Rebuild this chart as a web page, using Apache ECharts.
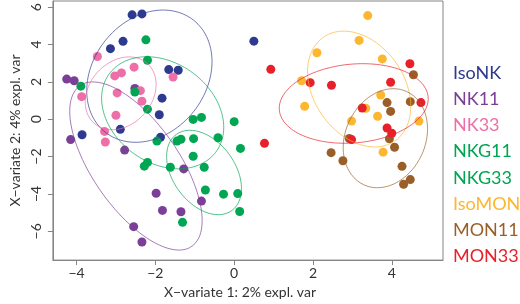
<!DOCTYPE html>
<html>
<head>
<meta charset="utf-8">
<script src="https://cdn.jsdelivr.net/npm/echarts@6/dist/echarts.min.js"></script>
<style>
  html, body { margin: 0; padding: 0; background: #fff; }
  #main { width: 520px; height: 304px; }
</style>
</head>
<body>
<div id="main"></div>
<script>
// groups, in legend order
var groupNames = ['IsoNK', 'NK11', 'NK33', 'NKG11', 'NKG33', 'IsoMON', 'MON11', 'MON33'];
var groupColors = ['#2e3a8f', '#7c3f97', '#ee6fa8', '#00a651', '#00a651', '#fdb62f', '#9a5f28', '#e8202a'];

// sample coordinates [X-variate 1, X-variate 2]
var isoNK = [[-2.59, 5.59], [-2.34, 5.64], [-3.14, 3.78], [-2.82, 4.17], [-1.66, 2.66], [-1.42, 2.62],
  [-1.83, 1.13], [-1.90, 0.24], [-2.89, -0.54], [-3.86, -0.83], [-1.87, -0.97], [0.50, 4.18]];
var nk11 = [[-4.25, 2.15], [-4.06, 2.06], [-2.52, 1.65], [-4.15, -1.09], [-2.78, -1.65], [-1.28, -2.66],
  [-1.98, -3.96], [-1.82, -4.88], [-1.35, -4.95], [-0.83, -4.38], [-2.55, -5.75], [-2.34, -6.57]];
var nk33 = [[-3.47, 3.36], [-2.54, 2.79], [-3.03, 2.32], [-2.86, 2.48], [-1.55, 2.26], [-3.87, 1.21],
  [-2.97, 1.41], [-2.38, 1.53], [-2.34, 0.97], [-3.00, 0.21], [-3.29, -0.65], [-3.27, -1.22]];
var nkg11 = [[-2.24, 4.25], [-2.20, 3.16], [-3.89, 1.77], [-2.52, 1.46], [-2.20, 0.54], [-1.04, -0.01],
  [-0.83, 0.10], [0.00, -0.13], [-1.96, -1.17], [-0.41, -0.99], [-2.20, -2.31], [-2.28, -2.51]];
var nkg33 = [[-1.45, -1.17], [-1.35, -1.07], [-1.03, -1.04], [0.16, -1.56], [-1.04, -1.98], [-1.62, -2.57],
  [-0.76, -2.57], [-0.73, -3.79], [-0.27, -4.01], [0.09, -3.98], [0.14, -4.94], [-1.31, -5.52]];
var isoMON = [[3.39, 5.55], [3.17, 4.22], [2.10, 3.56], [3.76, 3.23], [1.71, 2.06], [3.72, 1.30],
  [1.79, 0.69], [3.34, 0.59], [3.64, 0.16], [2.98, -0.10], [4.69, -0.10], [3.78, -1.76]];
var mon11 = [[4.55, 2.38], [3.88, 0.89], [4.47, 0.94], [3.97, 0.42], [2.92, -1.03], [3.94, -1.05],
  [4.07, -1.50], [2.46, -1.79], [2.76, -2.22], [4.26, -2.52], [4.47, -3.23], [4.30, -3.48]];
var mon33 = [[0.93, 2.67], [0.77, -1.29], [1.93, 1.96], [2.47, 1.82], [3.97, 1.98], [4.46, 2.97],
  [3.25, 0.60], [4.74, 0.89], [3.88, -0.47], [4.00, -0.75], [2.98, -1.09]];
var groupPoints = [isoNK, nk11, nk33, nkg11, nkg33, isoMON, mon11, mon33];

// confidence ellipses around each group mean: half width, half height, cos(tilt phase)
var ellipseHalfX = [1.59, 1.68, 0.90, 1.55, 0.95, 1.31, 1.07, 1.89];
var ellipseHalfY = [3.54, 4.50, 1.95, 3.00, 2.26, 3.10, 2.65, 2.13];
var ellipseCosPhase = [0.22, -0.65, 0.24, -0.26, -0.38, -0.30, 0.19, 0.12];

// axis ticks
var xTicks = [-4, -2, 0, 2, 4];
var yTicks = [-6, -4, -2, 0, 2, 4, 6];

function mean(pts, k) {
  var s = 0;
  for (var i = 0; i < pts.length; i++) s += pts[i][k];
  return s / pts.length;
}

function ellipse(pts, hx, hy, cphi) {
  var cx = mean(pts, 0), cy = mean(pts, 1), phi = Math.acos(cphi), out = [];
  for (var i = 0; i <= 120; i++) {
    var t = i / 120 * 2 * Math.PI;
    out.push([cx + hx * Math.cos(t), cy + hy * Math.cos(t - phi)]);
  }
  return out;
}

function minus(v) { return String(v).replace('-', '\u2212'); }

var series = [];
for (var i = 0; i < groupNames.length; i++) {
  series.push({
    name: groupNames[i],
    type: 'scatter',
    symbolSize: 9,
    itemStyle: { color: groupColors[i], opacity: 1 },
    data: groupPoints[i]
  });
}
for (var j = 0; j < groupNames.length; j++) {
  series.push({
    name: groupNames[j],
    type: 'line',
    showSymbol: false,
    symbol: 'none',
    silent: true,
    lineStyle: { color: groupColors[j], width: 0.8, opacity: 0.85 },
    data: ellipse(groupPoints[j], ellipseHalfX[j], ellipseHalfY[j], ellipseCosPhase[j])
  });
}

var axisGray = '#858585';
var chart = echarts.init(document.getElementById('main'));
chart.setOption({
  backgroundColor: '#fff',
  animation: false,
  textStyle: { fontFamily: 'Lato' },
  grid: { left: 39, right: 77, top: 1, bottom: 37, show: true, borderColor: axisGray, borderWidth: 1 },
  legend: {
    orient: 'vertical',
    left: 448,
    top: 64,
    padding: 0,
    icon: 'none',
    itemWidth: 0,
    itemHeight: 0,
    itemGap: 8.2,
    selectedMode: false,
    textStyle: { fontFamily: 'Lato', fontSize: 18, lineHeight: 18 },
    data: groupNames.map(function (n, k) {
      return { name: n, textStyle: { color: groupColors[k] } };
    })
  },
  xAxis: {
    type: 'value',
    min: -4.6,
    max: 5.3,
    name: 'X\u2212variate 1: 2% expl. var',
    nameLocation: 'middle',
    nameGap: 23,
    nameTextStyle: { fontFamily: 'Lato', fontSize: 14, color: '#333', padding: [0, 16, 0, 0] },
    axisLine: { onZero: false, lineStyle: { color: axisGray } },
    axisTick: { customValues: xTicks, length: 5, lineStyle: { color: axisGray } },
    axisLabel: { customValues: xTicks, margin: 6, fontSize: 14, color: '#333', formatter: minus },
    splitLine: { show: false }
  },
  yAxis: {
    type: 'value',
    min: -7.54,
    max: 6.33,
    name: 'X\u2212variate 2: 4% expl. var',
    nameLocation: 'middle',
    nameGap: 26,
    nameTextStyle: { fontFamily: 'Lato', fontSize: 14, color: '#333' },
    axisLine: { onZero: false, lineStyle: { color: axisGray } },
    axisTick: { customValues: yTicks, length: 5, lineStyle: { color: axisGray } },
    axisLabel: { customValues: yTicks, rotate: 90, margin: 9, fontSize: 14, color: '#333', formatter: minus },
    splitLine: { show: false }
  },
  series: series
});
</script>
</body>
</html>
